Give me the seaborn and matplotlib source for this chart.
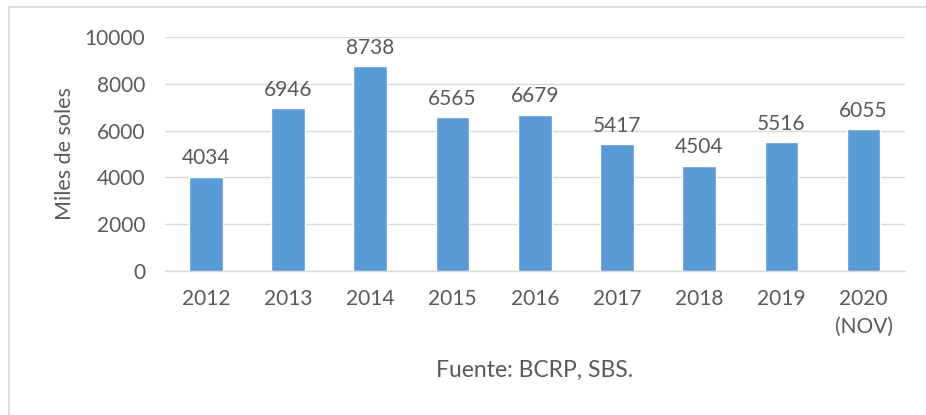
import matplotlib
matplotlib.use('Agg')
import matplotlib.pyplot as plt
from matplotlib.lines import Line2D
import seaborn as sns
import pandas as pd

# Data
years = ['2012', '2013', '2014', '2015', '2016', '2017', '2018', '2019', '2020\n(NOV)']
values = [4034, 6946, 8738, 6565, 6679, 5417, 4504, 5516, 6055]
yticks = [0, 2000, 4000, 6000, 8000, 10000]

df = pd.DataFrame({'year': years, 'value': values})

sns.set_style('white')
plt.rcParams['font.family'] = ['Lato', 'DejaVu Sans']
txt = '#595959'

fig = plt.figure(figsize=(9.26, 4.15), dpi=100)
ax = fig.add_axes([0.178, 0.347, 0.799, 0.564])

sns.barplot(x='year', y='value', data=df, color='#5B9BD5', width=0.41,
            saturation=1, ax=ax, zorder=3)

ax.set_ylim(0, 10000)
ax.set_yticks(yticks)
ax.set_xlim(-0.5, len(years) - 0.5)
ax.yaxis.grid(True, color='#D9D9D9', linewidth=1, zorder=0)
for s in ['top', 'right', 'left']:
    ax.spines[s].set_visible(False)
ax.spines['bottom'].set_color('#D9D9D9')
ax.spines['bottom'].set_linewidth(1)
ax.tick_params(axis='both', length=0, labelsize=15, colors=txt)
ax.tick_params(axis='x', pad=13)
ax.tick_params(axis='y', pad=14)
for lbl in ax.get_xticklabels():
    lbl.set_linespacing(1.5)

for i, v in enumerate(values):
    ax.text(i, v + 350, str(v), ha='center', va='bottom', fontsize=15, color=txt)

ax.set_xlabel('')
ax.set_ylabel('Miles de soles', fontsize=15.5, color=txt, labelpad=7)

fig.text(0.577, 0.108, 'Fuente: BCRP, SBS.', ha='center', va='center', fontsize=16.5, color=txt)

# outer chart border (top and left visible)
fig.add_artist(Line2D([0.0102, 1.0], [0.983, 0.983], transform=fig.transFigure, color='#D9D9D9', linewidth=1.2))
fig.add_artist(Line2D([0.0102, 0.0102], [0.0, 0.983], transform=fig.transFigure, color='#D9D9D9', linewidth=1.2))

fig.savefig('out.png', dpi=100)
